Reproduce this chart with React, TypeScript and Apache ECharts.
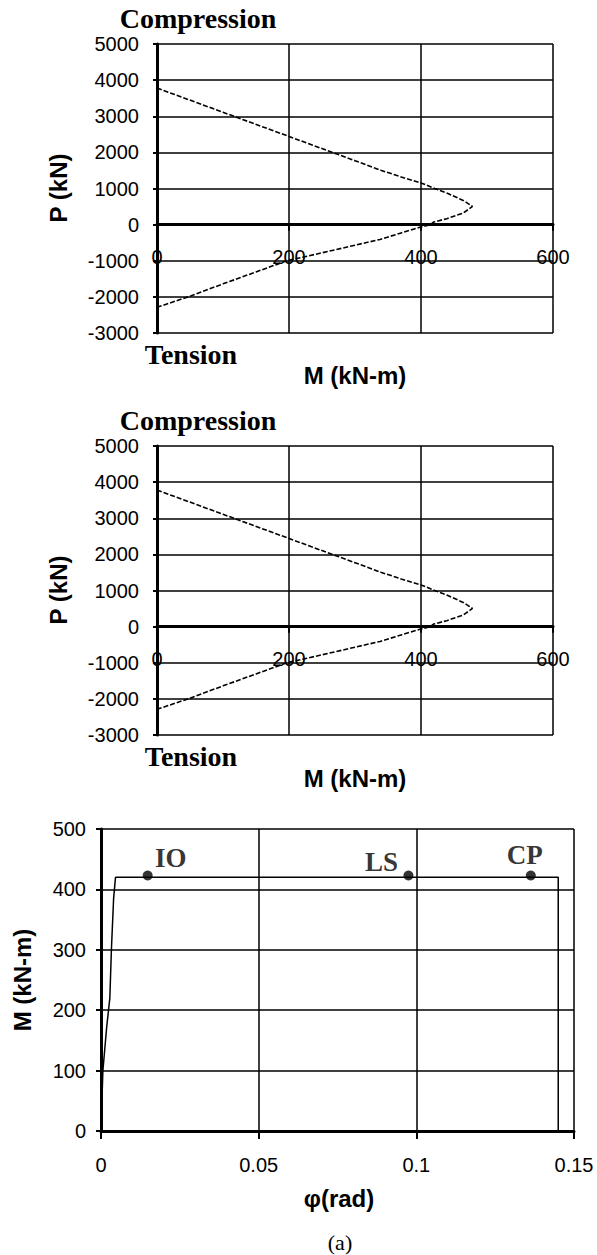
import React, { useEffect, useRef } from "react";
import * as echarts from "echarts";

// P-M interaction curve (kN-m, kN)
const pmMoment = [0, 100, 200, 300, 340, 370, 402, 421, 439, 464, 478, 464, 439, 419, 414, 398, 370, 338, 300, 250, 197, 150, 100, 47, 0];
const pmAxial = [3780, 3110, 2440, 1770, 1500, 1320, 1140, 1000, 875, 670, 505, 320, 165, 70, 0, -75, -230, -410, -570, -780, -1000, -1310, -1640, -2000, -2290];

// Moment-rotation curve
const rotPhi = [0, 0.0002, 0.0006, 0.0018, 0.0028, 0.0033, 0.004, 0.0046, 0.145, 0.145];
const rotMoment = [0, 35, 100, 172, 220, 300, 385, 420, 420, 0];

// Performance levels
const perfNames = ["IO", "LS", "CP"];
const perfPhi = [0.0148, 0.0975, 0.1363];
const perfMoment = [423, 423, 423];

const pmTicksY = { min: -3000, max: 5000, interval: 1000 };
const pmTicksX = { min: 0, max: 600, interval: 200 };
const rotTicksX = { min: 0, max: 0.15, interval: 0.05 };
const rotTicksY = { min: 0, max: 500, interval: 100 };

const SANS = "Liberation Sans";
const SERIF = "Liberation Serif";

export default function App() {
  const ref = useRef<HTMLDivElement>(null);
  useEffect(() => {
    document.body.style.margin = "0";
    const chart = echarts.init(ref.current!, null, { renderer: "svg" });
    const pmH = 289;
    const grid1 = { left: 157, top: 44, width: 396, height: pmH };
    const grid2 = { left: 157, top: 446, width: 396, height: pmH };
    const grid3 = { left: 101, top: 829, width: 473, height: 302 };
    // x axis of P-M charts sits at P = 0
    const zeroOffset = -(pmH * (0 - pmTicksY.min)) / (pmTicksY.max - pmTicksY.min);

    const tickLabel = { fontSize: 20, color: "#000", fontFamily: SANS, formatter: (v: number) => String(v) };
    const split = { show: true, lineStyle: { color: "#000", width: 1.5 } };
    const thick = { show: true, onZero: false, lineStyle: { color: "#000", width: 3 } };

    const pmX = (gi: number) => ({
      type: "value", gridIndex: gi, ...pmTicksX,
      position: "bottom", offset: zeroOffset,
      axisLine: thick,
      axisTick: { show: true, inside: false, length: 6, lineStyle: { color: "#000", width: 2 } },
      axisLabel: { ...tickLabel, margin: 22 },
      splitLine: split,
    });
    const pmY = (gi: number) => ({
      type: "value", gridIndex: gi, ...pmTicksY,
      axisLine: thick,
      axisTick: { show: true, length: 4, lineStyle: { color: "#000", width: 2 } },
      axisLabel: { ...tickLabel, margin: 18 },
      splitLine: split,
    });

    const pmData = pmMoment.map((m, i) => [m, pmAxial[i]]);
    const pmLine = { color: "#000", width: 1.6, type: [5, 2] };

    const labelOffsets = [[23, -18], [-27, -14], [-6, -21]];

    const text = (x: number, y: number, t: string, font: any, rotation = 0) => ({
      type: "text", x, y, rotation,
      style: { text: t, fill: "#000", align: "center", verticalAlign: "middle", ...font },
    });
    const serifBold = { fontFamily: SERIF, fontWeight: "bold", fontSize: 28 };
    const sansBold = { fontFamily: SANS, fontWeight: "bold", fontSize: 24 };

    chart.setOption({
      animation: false,
      backgroundColor: "#fff",
      grid: [grid1, grid2, grid3],
      xAxis: [
        pmX(0),
        pmX(1),
        {
          type: "value", gridIndex: 2, ...rotTicksX,
          axisLine: thick,
          axisTick: { show: true, length: 8, lineStyle: { color: "#000", width: 2 } },
          axisLabel: { ...tickLabel, margin: 24 },
          splitLine: split,
        },
      ],
      yAxis: [
        pmY(0),
        pmY(1),
        {
          type: "value", gridIndex: 2, ...rotTicksY,
          axisLine: thick,
          axisTick: { show: true, length: 5, lineStyle: { color: "#000", width: 2 } },
          axisLabel: { ...tickLabel, margin: 15 },
          splitLine: split,
        },
      ],
      series: [
        { type: "line", xAxisIndex: 0, yAxisIndex: 0, data: pmData, showSymbol: false, lineStyle: pmLine, z: 5 },
        { type: "line", xAxisIndex: 1, yAxisIndex: 1, data: pmData, showSymbol: false, lineStyle: pmLine, z: 5 },
        {
          type: "line", xAxisIndex: 2, yAxisIndex: 2,
          data: rotPhi.map((p, i) => [p, rotMoment[i]]),
          showSymbol: false, lineStyle: { color: "#000", width: 1.5 }, z: 5,
        },
        {
          type: "scatter", xAxisIndex: 2, yAxisIndex: 2, symbolSize: 10, z: 6,
          itemStyle: { color: "#000" },
          data: perfPhi.map((p, i) => ({ value: [p, perfMoment[i]], label: { offset: labelOffsets[i] } })),
          label: {
            show: true, position: "inside", color: "#000", textBorderWidth: 0,
            fontFamily: SERIF, fontWeight: "bold", fontSize: 27,
            formatter: (p: any) => perfNames[p.dataIndex],
          },
        },
      ],
      graphic: [
        text(198, 18, "Compression", serifBold),
        text(191, 354, "Tension", serifBold),
        text(355, 375, "M (kN-m)", sansBold),
        text(58, 188, "P (kN)", sansBold, Math.PI / 2),
        text(198, 420, "Compression", serifBold),
        text(191, 756, "Tension", serifBold),
        text(355, 778, "M (kN-m)", sansBold),
        text(58, 590, "P (kN)", sansBold, Math.PI / 2),
        text(22, 980, "M (kN-m)", sansBold, Math.PI / 2),
        text(339, 1198, "φ(rad)", sansBold),
        text(340, 1242, "(a)", { fontFamily: SERIF, fontSize: 22 }),
      ],
    });
    return () => chart.dispose();
  }, []);
  return <div ref={ref} style={{ width: 597, height: 1255 }} />;
}
